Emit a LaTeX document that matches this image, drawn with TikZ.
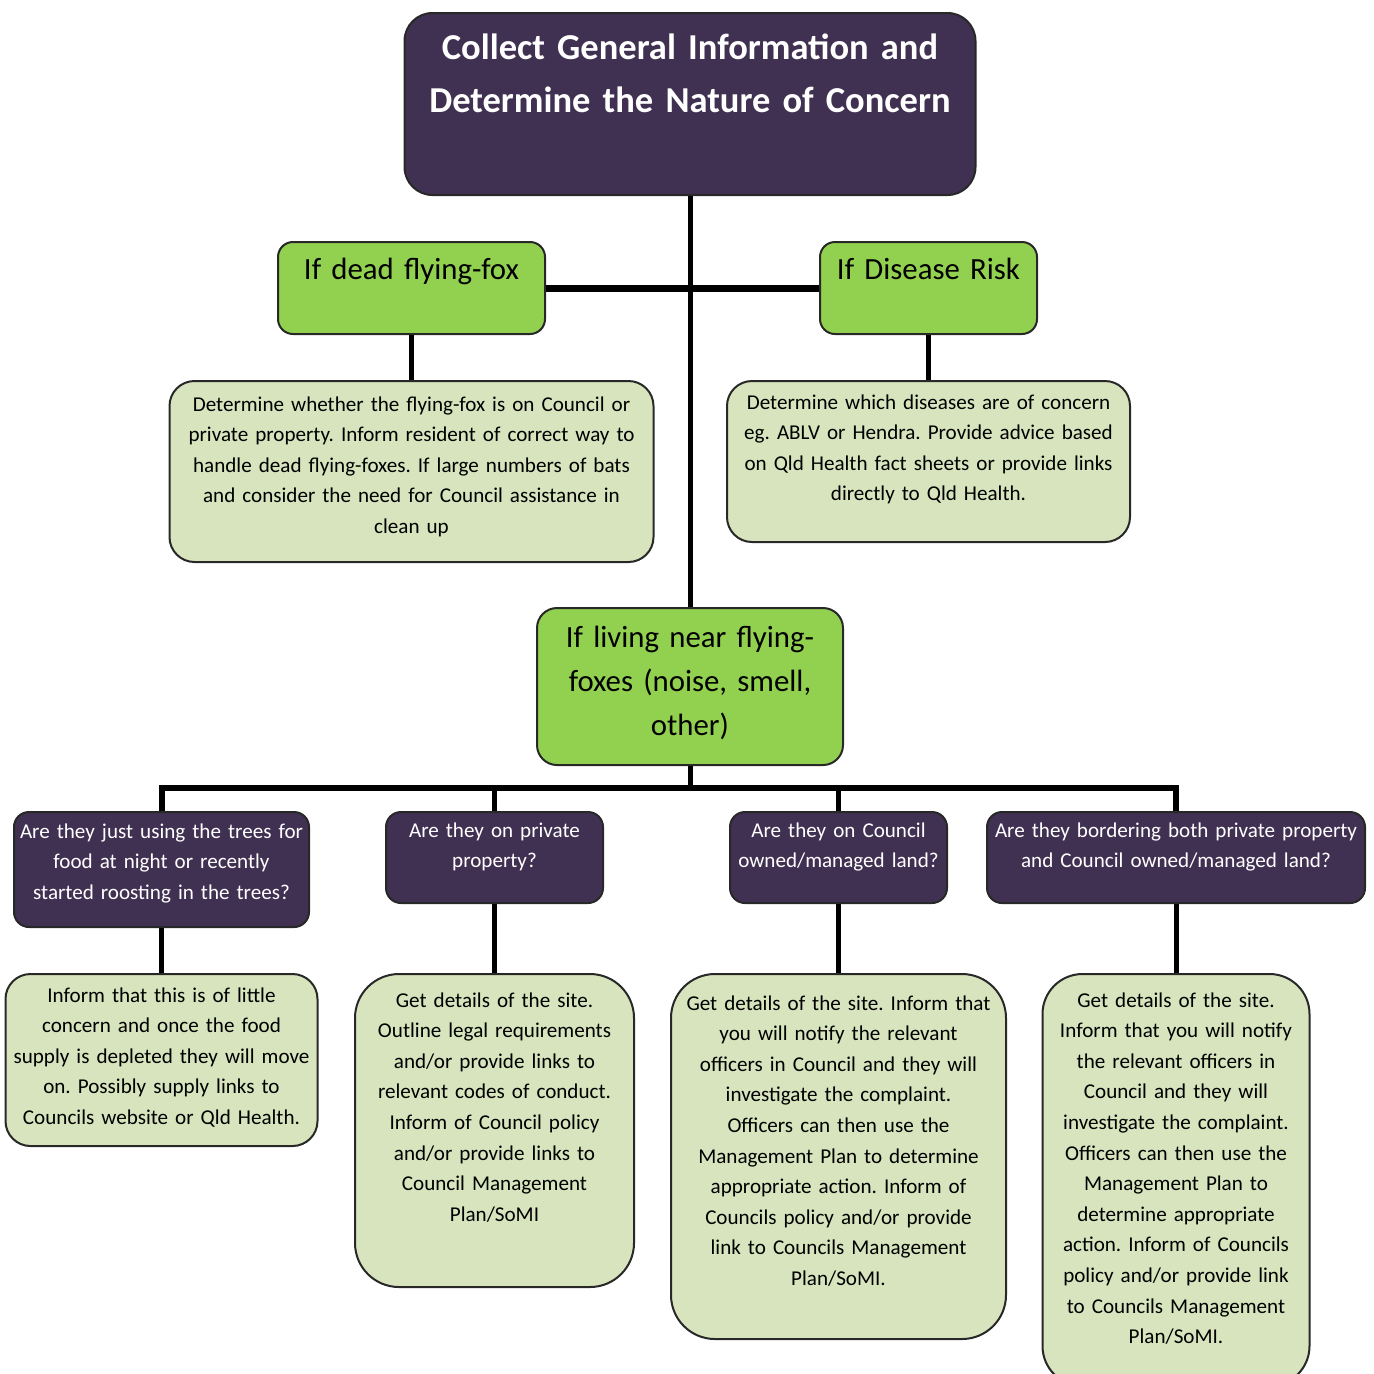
\documentclass[tikz,border=0pt]{standalone}
\usepackage{fontspec}
\setmainfont{Carlito}
\usepackage{tikz}
\definecolor{mypurple}{RGB}{64,49,82}
\definecolor{mygreen}{RGB}{146,208,80}
\definecolor{mylightgreen}{RGB}{215,228,189}
\definecolor{myborder}{RGB}{40,40,40}
\frenchspacing

\tikzset{
  box/.style={draw=myborder, line width=1pt, rounded corners=7.5pt, anchor=north,
    align=center, inner xsep=1pt, inner ysep=0pt},
  titlebox/.style={box, fill=mypurple, text=white, rounded corners=14pt,
    font=\fontsize{18.25}{26.5}\selectfont\bfseries},
  headbox/.style={box, fill=mygreen, font=\fontsize{15.4}{22}\selectfont},
  infobox/.style={box, fill=mylightgreen, rounded corners=12.5pt,
    font=\fontsize{10.55}{15.3}\selectfont},
  askbox/.style={box, fill=mypurple, text=white,
    font=\fontsize{10.55}{15.3}\selectfont},
  link/.style={line width=2.5pt},
}

\begin{document}
\begin{tikzpicture}[x=0.5pt, y=-0.5pt]
\useasboundingbox (0,0) rectangle (1374,1373);

% caixa principal
\node[titlebox, text width=283.5pt, text height=23pt, text depth=68pt] (title) at (690,12)
  {Collect General Information and\\Determine the Nature of Concern};

% dois casos de cima
\node[headbox, text width=131.5pt, text height=18.5pt, text depth=27.5pt] (dead) at (411.5,241)
  {If dead flying-fox};
\node[headbox, text width=106.5pt, text height=18.5pt, text depth=27.5pt] (disease) at (928.5,241)
  {If Disease Risk};

% respostas dos dois casos
\node[infobox, text width=240pt, text height=15pt, text depth=75.5pt] (deadinfo) at (411.5,380)
  {Determine whether the flying-fox is on Council or\\private property. Inform resident of correct way to\\handle dead flying-foxes. If large numbers of bats\\and consider the need for Council assistance in\\clean up};
\node[infobox, text width=199.5pt, text height=14pt, text depth=66.5pt] (diseaseinfo) at (928.5,380)
  {Determine which diseases are of concern\\eg. ABLV or Hendra. Provide advice based\\on Qld Health fact sheets or provide links\\directly to Qld Health.};

% caso do meio
\node[headbox, rounded corners=10pt, text width=151pt, text height=19.5pt, text depth=59pt] (living) at (690,607)
  {If living near flying-\\foxes (noise, smell,\\other)};

% perguntas
\node[askbox, text width=145.5pt, text height=13pt, text depth=44.5pt] (q1) at (161.5,811)
  {Are they just using the trees for\\food at night or recently\\started roosting in the trees?};
\node[askbox, text width=106.5pt, text height=12.5pt, text depth=33pt] (q2) at (494.5,811)
  {Are they on private\\property?};
\node[askbox, text width=106.5pt, text height=12.5pt, text depth=33pt] (q3) at (838.5,811)
  {Are they on Council\\owned/managed land?};
\node[askbox, text width=187pt, text height=12.5pt, text depth=33pt] (q4) at (1176,811)
  {Are they bordering both private property\\and Council owned/managed land?};

% respostas
\node[infobox, text width=154pt, text height=14pt, text depth=72pt] (a1) at (161.5,973)
  {Inform that this is of little\\concern and once the food\\supply is depleted they will move\\on. Possibly supply links to\\Councils website or Qld Health.};
\node[infobox, rounded corners=22pt, text width=137.5pt, text height=16.5pt, text depth=140pt] (a2) at (494.5,973)
  {Get details of the site.\\Outline legal requirements\\and/or provide links to\\relevant codes of conduct.\\Inform of Council policy\\and/or provide links to\\Council Management\\Plan/SoMI};
\node[infobox, rounded corners=22pt, text width=165.5pt, text height=18pt, text depth=164.5pt] (a3) at (838.5,973)
  {Get details of the site. Inform that\\you will notify the relevant\\officers in Council and they will\\investigate the complaint.\\Officers can then use the\\Management Plan to determine\\appropriate action. Inform of\\Councils policy and/or provide\\link to Councils Management\\Plan/SoMI.};
\node[infobox, rounded corners=20pt, text width=131.5pt, text height=16.5pt, text depth=189.5pt] (a4) at (1176,973)
  {Get details of the site.\\Inform that you will notify\\the relevant officers in\\Council and they will\\investigate the complaint.\\Officers can then use the\\Management Plan to\\determine appropriate\\action. Inform of Councils\\policy and/or provide link\\to Councils Management\\Plan/SoMI.};

% ligacoes
\draw[link] (title) -- (living);
\draw[link, line width=3.5pt] (dead) -- (disease);
\draw[link] (dead) -- (deadinfo);
\draw[link] (disease) -- (diseaseinfo);
\coordinate (bus) at (690,788);
\draw[link] (living) -- (bus);
\draw[link, line width=3pt] (q1.north) |- (bus) -| (q4.north);
\draw[link] (q2.north) -- (q2.north |- bus);
\draw[link] (q3.north) -- (q3.north |- bus);
\foreach \i in {1,...,4}
  \draw[link] (q\i) -- (a\i);

\end{tikzpicture}
\end{document}
